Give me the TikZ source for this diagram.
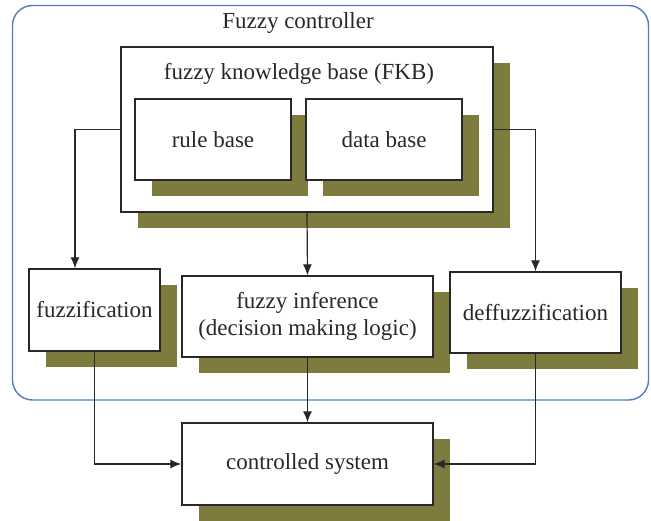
\documentclass[tikz,border=0pt]{standalone}
\usepackage{fontspec}
\setmainfont{Liberation Serif}
\usepackage{tikz}
\usetikzlibrary{arrows.meta, positioning, calc, shadows}

\definecolor{shadowolive}{RGB}{125,123,61}
\definecolor{frameblue}{RGB}{79,123,200}
\definecolor{inkgray}{RGB}{40,40,40}

\begin{document}
\begin{tikzpicture}[x=1pt, y=-1pt,
    block/.style={rectangle, draw=inkgray, fill=white, line width=1.3pt, text=inkgray, align=center,
        font=\fontsize{23}{27}\selectfont,
        general shadow={fill=shadowolive, shadow xshift=16.5pt, shadow yshift=-16pt}},
    plain/.style={text=inkgray, font=\fontsize{23}{27}\selectfont},
    arrow/.style={draw=inkgray, line width=1.2pt, -{Latex[length=11pt, width=9pt]}}]

    \useasboundingbox (0,0) rectangle (651,521);

    % controller frame
    \draw [frameblue, line width=1.4pt, rounded corners=20pt] (12.5,5.5) rectangle (648.5,400);
    \node [plain] (ctrl) at (298,23) {Fuzzy controller};

    % knowledge base with its two parts
    \node [block, minimum width=372pt, minimum height=165pt] (fkb) at (307,129.5) {};
    \node [plain] (fkbtitle) at (299,74) {fuzzy knowledge base (FKB)};
    \node [block, minimum width=156pt, minimum height=81pt] (rules) at (213,139.5) {rule base};
    \node [block, minimum width=156pt, minimum height=81pt] (data) at (384,139.5) {data base};

    % processing stages
    \node [block, minimum width=131pt, minimum height=82pt] (fuzz) at (94.5,310) {fuzzification};
    \node [block, minimum width=251pt, minimum height=81pt] (infer) at (307.5,316.5) {fuzzy inference\\(decision making logic)};
    \node [block, minimum width=171pt, minimum height=81pt] (defuzz) at (535.5,312.5) {deffuzzification};

    \node [block, minimum width=251pt, minimum height=82pt] (plant) at (307.5,464) {controlled system};

    \path [arrow] (fkb.west) -| ([xshift=-19.5pt]fuzz.north);
    \path [arrow] (fkb.south) -- (infer.north);
    \path [arrow] (fkb.east) -| (defuzz.north);
    \path [arrow] (fuzz.south) |- (plant.west);
    \path [arrow] (infer.south) -- (plant.north);
    \path [arrow] (defuzz.south) |- (plant.east);
\end{tikzpicture}
\end{document}
